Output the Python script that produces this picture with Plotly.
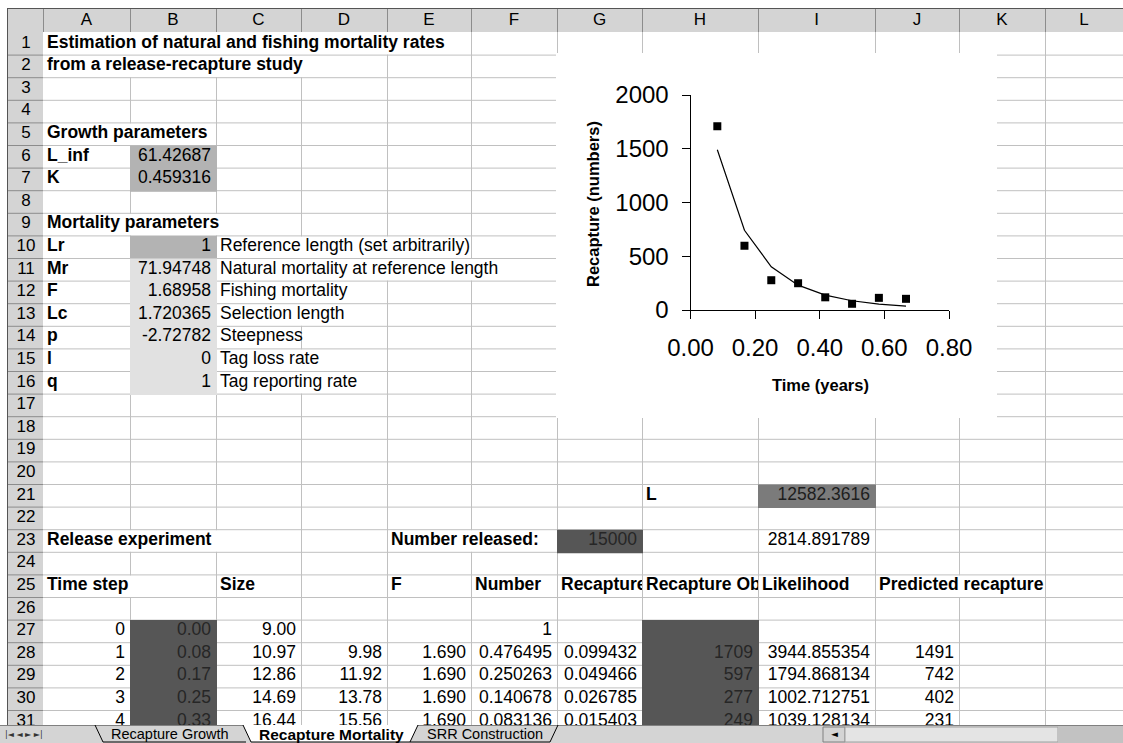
import plotly.graph_objects as go

FONT = "Liberation Sans, Arial, sans-serif"

# embedded chart: recaptures per monthly time step
time_years = [0.083, 0.167, 0.250, 0.333, 0.417, 0.500, 0.583, 0.667]
recapture_observed = [1709, 597, 277, 249, 118, 58, 113, 104]
recapture_predicted = [1491, 742, 402, 231, 139, 86, 55, 36]

# sheet text
col_letters = ["A", "B", "C", "D", "E", "F", "G", "H", "I", "J", "K", "L"]
heading_cells = [("A1", "Estimation of natural and fishing mortality rates"),
                 ("A2", "from a release-recapture study"),
                 ("A5", "Growth parameters"),
                 ("A9", "Mortality parameters"),
                 ("H21", "L"),
                 ("A23", "Release experiment"),
                 ("E23", "Number released:")]
param_rows = [6, 7, 10, 11, 12, 13, 14, 15, 16]
param_names = ["L_inf", "K", "Lr", "Mr", "F", "Lc", "p", "l", "q"]
param_values = ["61.42687", "0.459316", "1", "71.94748", "1.68958", "1.720365",
                "-2.72782", "0", "1"]
param_notes = ["", "", "Reference length (set arbitrarily)",
               "Natural mortality at reference length", "Fishing mortality",
               "Selection length", "Steepness", "Tag loss rate", "Tag reporting rate"]
table_headers = [("A25", "Time step"), ("C25", "Size"), ("E25", "F"),
                 ("F25", "Number"), ("I25", "Likelihood"), ("J25", "Predicted recapture")]
clipped_headers = [("G25", "Recapture"), ("H25", "Recapture Ob")]
single_values = [("I23", "2814.891789")]
dark_values = [("G23", "15000")]
mid_values = [("I21", "12582.3616")]

# rows 27-31 of the release table
step_col = ["0", "1", "2", "3", "4"]
time_col = ["0.00", "0.08", "0.17", "0.25", "0.33"]
size_col = ["9.00", "10.97", "12.86", "14.69", "16.44"]
mean_size_col = ["", "9.98", "11.92", "13.78", "15.56"]
f_col = ["", "1.690", "1.690", "1.690", "1.690"]
number_col = ["1", "0.476495", "0.250263", "0.140678", "0.083136"]
rate_col = ["", "0.099432", "0.049466", "0.026785", "0.015403"]
obs_col = ["", "1709", "597", "277", "249"]
lik_col = ["", "3944.855354", "1794.868134", "1002.712751", "1039.128134"]
pred_col = ["", "1491", "742", "402", "231"]

tab_names = ["Recapture Growth", "Recapture Mortality", "SRR Construction"]

# geometry of the screenshot (pixels)
W, H = 1123, 743
COL_EDGES = [43, 130, 216, 301, 387, 471, 557, 642, 758, 875, 959, 1045, 1123]
SHEET_X0, SHEET_Y0 = 7, 8
ROW_TOP, ROW_H, N_ROWS = 32, 22.6, 31
TAB_TOP = 725
CHART_BOX = (556, 997, 53, 418)
# vertical gridlines hidden by overflowing text: row -> columns whose right edge is hidden
overflow = {1: "ABCD", 2: "ABC", 5: "A", 9: "AB", 10: "CD", 11: "CDE", 12: "C",
            13: "C", 15: "C", 16: "C", 23: "ABE", 25: "AJ"}


def cell_box(ref):
    i = col_letters.index(ref[0])
    r = int(ref[1:])
    return COL_EDGES[i], COL_EDGES[i + 1], ROW_TOP + (r - 1) * ROW_H, ROW_TOP + r * ROW_H


def text_trace(cells, align="left", bold=False, color="black", size=17.5,
               xaxis="x", yaxis="y"):
    xs, ys, ts = [], [], []
    for ref, txt in cells:
        if not txt:
            continue
        x0, x1, y0, y1 = cell_box(ref)
        xs.append(x0 + 4 if align == "left" else x1 - 5)
        ys.append((y0 + y1) / 2)
        ts.append(txt)
    return go.Scatter(x=xs, y=ys, text=ts, mode="text",
                      textposition="middle right" if align == "left" else "middle left",
                      textfont=dict(family=FONT, size=size, color=color,
                                    weight="bold" if bold else "normal"),
                      hoverinfo="skip", cliponaxis=True, xaxis=xaxis, yaxis=yaxis)


def rect_trace(boxes, color):
    xs, ys = [], []
    for x0, x1, y0, y1 in boxes:
        xs += [x0, x1, x1, x0, x0, None]
        ys += [y0, y0, y1, y1, y0, None]
    return go.Scatter(x=xs, y=ys, mode="lines", fill="toself", fillcolor=color,
                      line=dict(color=color, width=0), hoverinfo="skip")


fig = go.Figure()

# cell gridlines
gx, gy = [], []
for k in range(1, N_ROWS + 1):
    y = ROW_TOP + k * ROW_H + 0.5
    gx += [COL_EDGES[0], W, None]
    gy += [y, y, None]
for i, letter in enumerate(col_letters[:-1]):
    x = COL_EDGES[i + 1] + 0.5
    for r in range(1, N_ROWS + 1):
        if letter in overflow.get(r, ""):
            continue
        gx += [x, x, None]
        gy += [ROW_TOP + (r - 1) * ROW_H, ROW_TOP + r * ROW_H + 1, None]
fig.add_trace(go.Scatter(x=gx, y=gy, mode="lines", line=dict(color="#c0c0c0", width=1),
                         hoverinfo="skip"))

# white chart area sitting on the sheet
fig.add_trace(rect_trace([CHART_BOX], "white"))


def boxes(refs):
    out = []
    for ref in refs:
        x0, x1, y0, y1 = cell_box(ref)
        out.append((x0, x1 + 1, y0 + 0.5, y1 + 1.5))
    return out


table_rows = list(range(27, 27 + len(step_col)))
fig.add_trace(rect_trace(boxes(["B6", "B7", "B10"]), "#b3b3b3"))
fig.add_trace(rect_trace(boxes(["B%d" % r for r in range(11, 17)]), "#e1e1e1"))
fig.add_trace(rect_trace(boxes([c for c, _ in mid_values]), "#7b7b7b"))
fig.add_trace(rect_trace(boxes([c for c, _ in dark_values] + ["B%d" % r for r in table_rows]
                               + ["H%d" % r for r in table_rows]), "#565656"))

# sheet text
fig.add_trace(text_trace(heading_cells + table_headers
                         + [("A%d" % r, n) for r, n in zip(param_rows, param_names)], bold=True))
fig.add_trace(text_trace([("C%d" % r, n) for r, n in zip(param_rows, param_notes)]))
plain = [("B%d" % r, v) for r, v in zip(param_rows, param_values)] + single_values
for letter, col in zip("ACDEFGIJ", [step_col, size_col, mean_size_col, f_col, number_col,
                                     rate_col, lik_col, pred_col]):
    plain += [("%s%d" % (letter, r), v) for r, v in zip(table_rows, col)]
fig.add_trace(text_trace(plain, align="right"))
fig.add_trace(text_trace(mid_values, align="right", color="#1e1e1e"))
fig.add_trace(text_trace(dark_values + [("B%d" % r, v) for r, v in zip(table_rows, time_col)]
                         + [("H%d" % r, v) for r, v in zip(table_rows, obs_col)],
                         align="right", color="#262626"))

# header row / column
hx, hy = [], []
for e in COL_EDGES[:-1]:
    hx += [e + 0.5, e + 0.5, None]
    hy += [SHEET_Y0, ROW_TOP, None]
for k in range(1, N_ROWS + 1):
    y = ROW_TOP + k * ROW_H + 0.5
    hx += [SHEET_X0, COL_EDGES[0], None]
    hy += [y, y, None]
fig.add_trace(go.Scatter(x=hx, y=hy, mode="lines", line=dict(color="#8c8c8c", width=1),
                         hoverinfo="skip"))
fig.add_trace(go.Scatter(x=[SHEET_X0 + 0.5, SHEET_X0 + 0.5, None, SHEET_X0, W],
                         y=[SHEET_Y0, TAB_TOP, None, SHEET_Y0 + 0.5, SHEET_Y0 + 0.5],
                         mode="lines", line=dict(color="#555555", width=1), hoverinfo="skip"))
fig.add_trace(go.Scatter(x=[(a + b) / 2 for a, b in zip(COL_EDGES[:-1], COL_EDGES[1:])],
                         y=[(SHEET_Y0 + ROW_TOP) / 2 + 1] * len(col_letters), text=col_letters,
                         mode="text", textfont=dict(family=FONT, size=17, color="black"),
                         hoverinfo="skip"))
fig.add_trace(go.Scatter(x=[26] * N_ROWS,
                         y=[ROW_TOP + (r - 0.5) * ROW_H for r in range(1, N_ROWS + 1)],
                         text=[str(r) for r in range(1, N_ROWS + 1)], mode="text",
                         textfont=dict(family=FONT, size=17, color="black"), hoverinfo="skip"))

# two headers in row 25 are cut at their cell edge, as Excel does
for n, (ref, txt) in enumerate(clipped_headers):
    ax = str(n + 3)
    fig.add_trace(text_trace([(ref, txt)], bold=True, xaxis="x" + ax, yaxis="y" + ax))

# chart
fig.add_trace(go.Scatter(x=time_years, y=recapture_predicted, mode="lines",
                         line=dict(color="black", width=1.2), xaxis="x2", yaxis="y2"))
fig.add_trace(go.Scatter(x=time_years, y=recapture_observed, mode="markers",
                         marker=dict(symbol="square", size=8, color="black"),
                         xaxis="x2", yaxis="y2"))

hidden = dict(visible=False, fixedrange=True, showgrid=False, zeroline=False)
chart_axis = dict(showline=True, linecolor="black", linewidth=1, ticks="outside", ticklen=8,
                  tickwidth=1, tickcolor="black", showgrid=False, zeroline=False,
                  tickfont=dict(family=FONT, size=24, color="black"), fixedrange=True,
                  ticklabelstandoff=8)
layout_axes = dict(
    xaxis=dict(hidden, range=[0, W], domain=[0, 1]),
    yaxis=dict(hidden, range=[H, 0], domain=[0, 1]),
    xaxis2=dict(chart_axis, domain=[690.5 / W, 949 / W], range=[0, 0.8], tick0=0, dtick=0.2,
                tickformat=".2f", anchor="y2"),
    yaxis2=dict(chart_axis, domain=[(H - 310) / H, (H - 95) / H], range=[0, 2000], tick0=0,
                dtick=500, anchor="x2"),
)
for n, (ref, _) in enumerate(clipped_headers):
    x0, x1, y0, y1 = cell_box(ref)
    ax = str(n + 3)
    layout_axes["xaxis" + ax] = dict(hidden, range=[x0, x1], domain=[x0 / W, x1 / W],
                                     anchor="y" + ax)
    layout_axes["yaxis" + ax] = dict(hidden, range=[y1, y0], domain=[(H - y1) / H, (H - y0) / H],
                                     anchor="x" + ax)

annotations = [
    dict(x=593, y=204, text="Recapture (numbers)", textangle=-90,
         font=dict(family=FONT, size=16.5, color="black", weight="bold")),
    dict(x=820, y=385, text="Time (years)",
         font=dict(family=FONT, size=16.5, color="black", weight="bold")),
]

# sheet tab bar
T, B = TAB_TOP, 742
shapes = [
    dict(type="rect", x0=SHEET_X0, x1=W, y0=SHEET_Y0, y1=ROW_TOP, fillcolor="#d4d4d4",
         line_width=0, layer="below"),
    dict(type="rect", x0=SHEET_X0, x1=COL_EDGES[0], y0=ROW_TOP, y1=TAB_TOP, fillcolor="#d4d4d4",
         line_width=0, layer="below"),
    dict(type="rect", x0=0, x1=W, y0=T, y1=H, fillcolor="#d4d4d4", line_width=0),
    dict(type="line", x0=0, x1=W, y0=T + 0.5, y1=T + 0.5, line=dict(color="#808080", width=1)),
    dict(type="path", path=f"M 95,{T} L 103,{B} L 246,{B}", line=dict(color="black", width=1)),
    dict(type="path", path=f"M 243,{T} L 251,{B} L 410,{B} L 418,{T} Z", fillcolor="white",
         line_width=0),
    dict(type="path", path=f"M 243,{T} L 251,{B} L 410,{B} L 418,{T}",
         line=dict(color="black", width=1)),
    dict(type="path", path=f"M 410,{B} L 550,{B} L 558,{T}", line=dict(color="black", width=1)),
    dict(type="rect", x0=823, x1=845, y0=T + 2, y1=B, fillcolor="#d4d4d4",
         line=dict(color="#808080", width=1)),
    dict(type="rect", x0=845, x1=1058, y0=T + 2, y1=B, fillcolor="#e4e4e4",
         line=dict(color="#a0a0a0", width=1)),
    dict(type="rect", x0=1058, x1=W, y0=T + 1, y1=H, fillcolor="#c2c2c2", line_width=0),
]
for s in shapes:
    s.update(xref="x", yref="y")
    s.setdefault("layer", "above")

ty = (T + B) / 2 + 0.5
annotations += [
    dict(x=24, y=ty, text="|◄ ◄ ► ►|",
         font=dict(family="DejaVu Sans", size=8, color="#333333")),
    dict(x=170, y=ty, text=tab_names[0], font=dict(family=FONT, size=14.5, color="black")),
    dict(x=331, y=ty, text=tab_names[1],
         font=dict(family=FONT, size=15.5, color="black", weight="bold")),
    dict(x=485, y=ty, text=tab_names[2], font=dict(family=FONT, size=14.5, color="black")),
    dict(x=834, y=ty, text="◄", font=dict(family="DejaVu Sans", size=9, color="black")),
]
for a in annotations:
    a.update(xref="x", yref="y", showarrow=False)

fig.update_layout(width=W, height=H, margin=dict(l=0, r=0, t=0, b=0, pad=0, autoexpand=False),
                  paper_bgcolor="white", plot_bgcolor="rgba(0,0,0,0)",
                  showlegend=False, hovermode=False, shapes=shapes,
                  annotations=annotations, **layout_axes)

fig.write_html("out.html", config={"displayModeBar": False},
               post_script="document.body.style.margin='0';document.body.style.overflow='hidden';")
